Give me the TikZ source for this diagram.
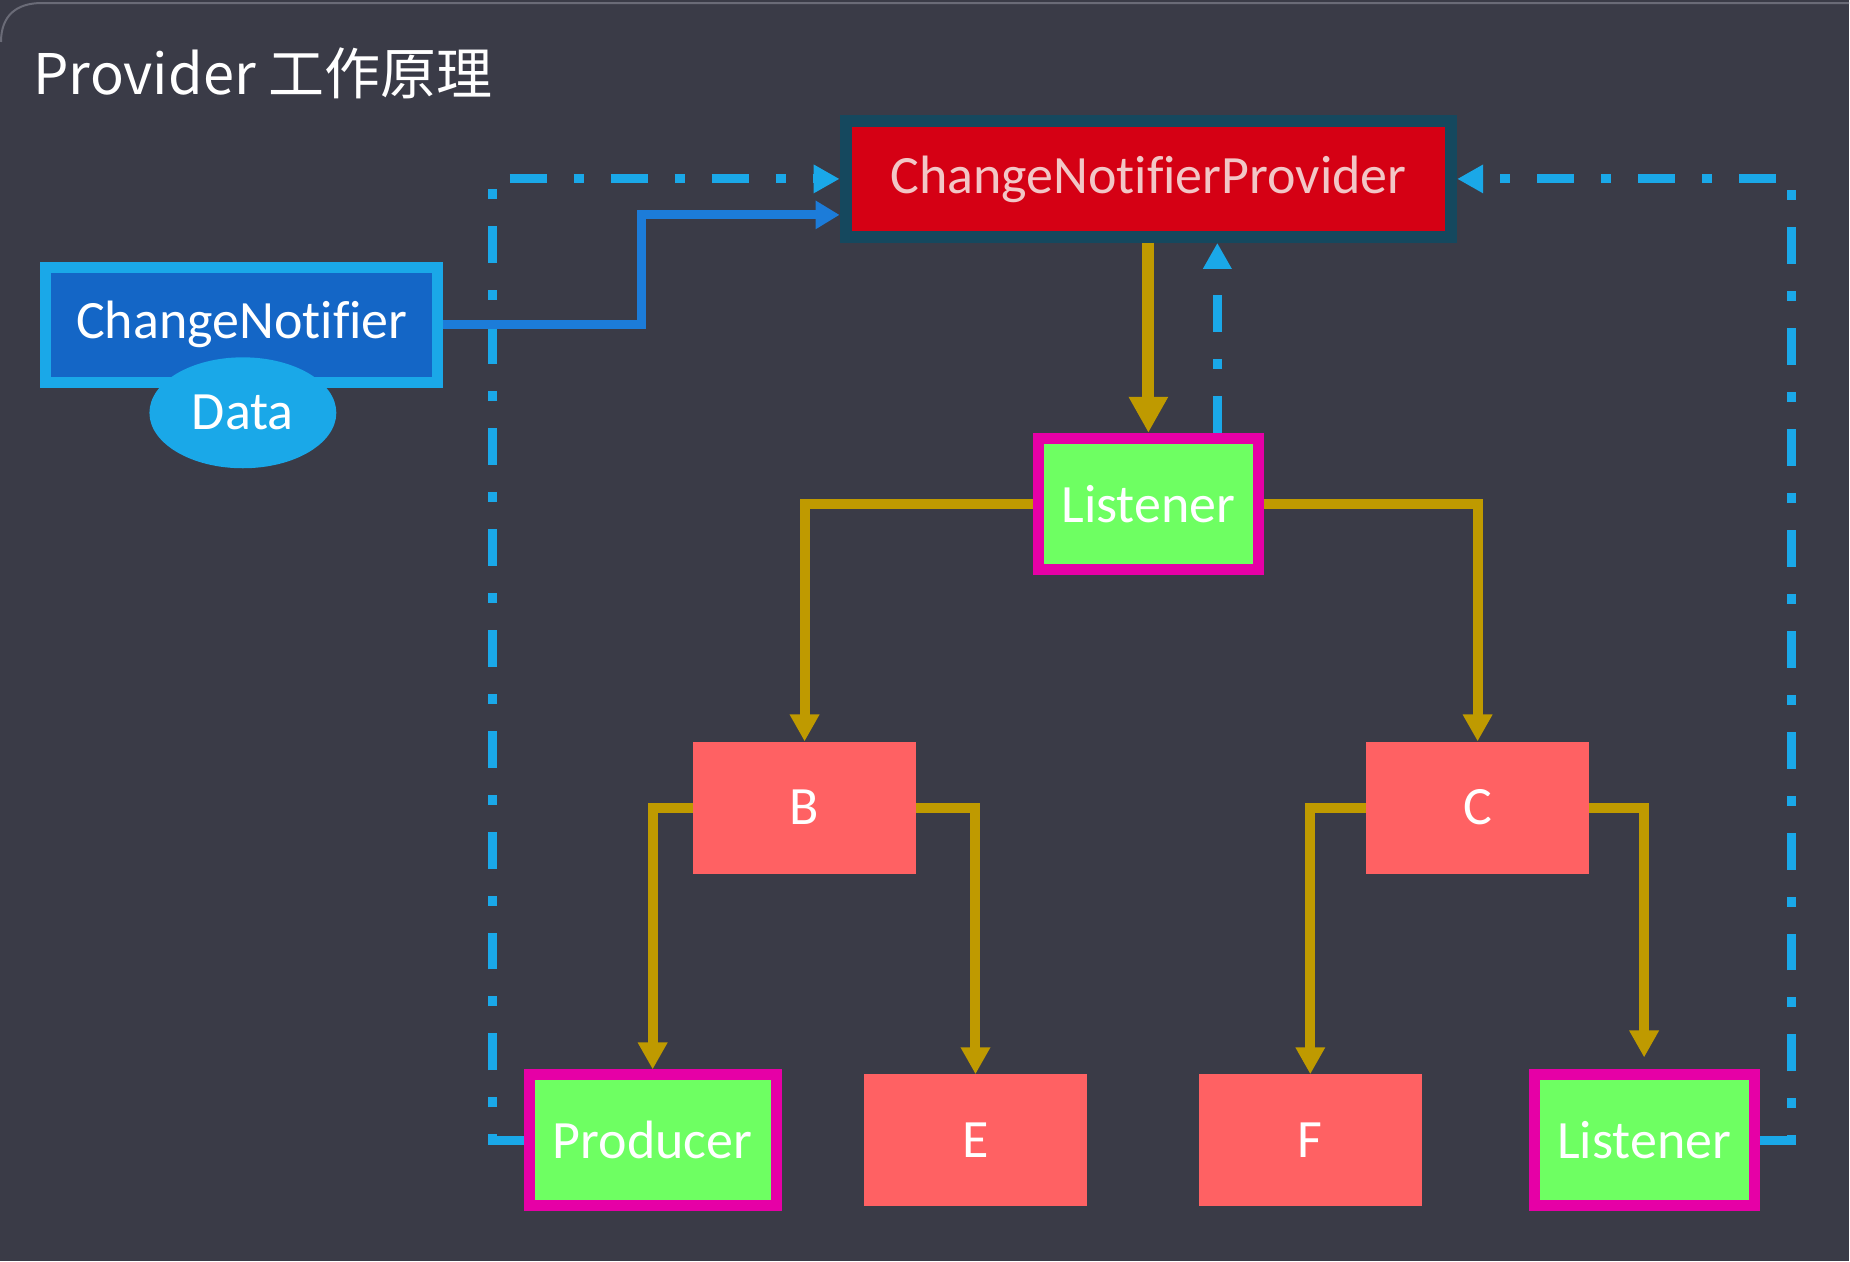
\documentclass[tikz,border=0pt]{standalone}
\usepackage{fontspec}
\setmainfont{Carlito}[Ligatures=NoCommon]
\newfontfamily\cjk{Noto Sans CJK SC}
\usetikzlibrary{positioning,arrows.meta,shapes.geometric}

\definecolor{bgdark}{HTML}{3A3B47}
\definecolor{framegray}{HTML}{6A6B77}
\definecolor{notifblue}{HTML}{1466C6}
\definecolor{skyblue}{HTML}{1AA8E8}
\definecolor{linkblue}{HTML}{1C7CD9}
\definecolor{provred}{HTML}{D50014}
\definecolor{provedge}{HTML}{15485E}
\definecolor{provtext}{HTML}{F2C6C6}
\definecolor{listgreen}{HTML}{6EFF62}
\definecolor{listedge}{HTML}{E600A6}
\definecolor{widgetred}{HTML}{FF6163}
\definecolor{treegold}{HTML}{BF9A00}

\begin{document}
\begin{tikzpicture}[x=1pt, y=-1pt,
  label54/.style={text=white, font=\fontsize{54}{60}\selectfont},
  widget/.style={label54, fill=widgetred, minimum width=223pt, minimum height=132pt},
  listen/.style={label54, fill=listgreen, draw=listedge, line width=11pt, minimum width=220pt, minimum height=131pt},
  tree/.style={-{Triangle[width=28pt,length=27pt]}, line width=10pt, treegold},
  notify/.style={-{Triangle[width=27pt,length=26pt]}, line width=9pt, skyblue, dash pattern=on 37pt off 27pt on 10pt off 27pt},
  link/.style={-{Triangle[width=27pt,length=24pt]}, line width=9pt, linkblue}]
\fill[bgdark] (0,0) rectangle (1850,1262);
\draw[framegray, line width=2pt] (1,42) .. controls (1,16) and (16,3) .. (42,3) -- (1850,3);
\path[use as bounding box] (0,0) rectangle (1850,1262);

\node[anchor=west, text=white, font=\cjk\fontsize{56}{62}\selectfont] (title) at (30,73) {Provider 工作原理};

\node[label54, draw=skyblue, fill=notifblue, line width=11pt, minimum width=392pt, minimum height=115pt] (notifier) at (242,325) {ChangeNotifier};
\node[label54, ellipse, fill=skyblue, minimum width=187pt, minimum height=111pt] (data) at (243,413) {Data};
\node[label54, text=provtext, draw=provedge, fill=provred, line width=12pt, minimum width=606pt, minimum height=116pt] (provider) at (1149,179) {ChangeNotifierProvider};
\node[listen] (listener) at (1149,504) {Listener};
\node[widget] (b) at (805,808) {B};
\node[widget, right=450pt of b] (c) {C};
\node[listen, minimum width=247pt] (producer) at (653,1141) {Producer};
\node[widget] (e) at (976,1141) {E};
\node[widget] (f) at (1311,1141) {F};
\node[listen] (listener2) at (1645,1141) {Listener};

\draw[notify] (producer.west) -- ++(-31,0) |- (provider.west);
\draw[notify] (listener2.east) -- ++(32,0) |- (provider.east);
\draw[notify] ([xshift=69pt]listener.north) -- ([xshift=69pt]listener.north |- provider.south);
\draw[link] (notifier.east) -- ++(198,0) |- ([yshift=-36pt]provider.west);

\draw[tree, line width=12pt, -{Triangle[width=37pt,length=36pt]}] (provider.south -| listener.north) -- (listener.north);
\draw[tree] (listener.west) -| (b.north);
\draw[tree] (listener.east) -| (c.north);
\draw[tree] (b.west) -| (producer.north);
\draw[tree] (b.east) -| (e.north);
\draw[tree] (c.west) -| (f.north);
\draw[tree] (c.east) -| ([yshift=12pt]listener2.north);
\end{tikzpicture}
\end{document}
